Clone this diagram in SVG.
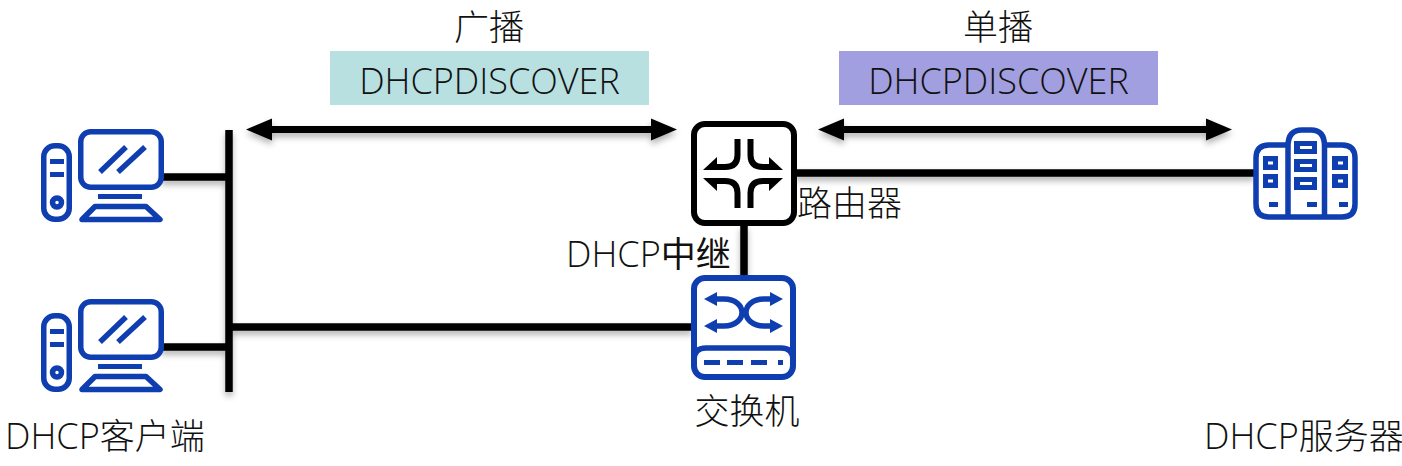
<svg xmlns="http://www.w3.org/2000/svg" width="1402" height="466" viewBox="0 0 1402 466">
<style>
text{font-family:"Open Sans","Noto Sans CJK SC",sans-serif;font-weight:300;fill:#111;font-size:36px}
.cjk{font-family:"Noto Sans CJK SC",sans-serif;font-weight:300;font-size:35px}
.line{stroke:#000;stroke-width:7.500;fill:none}
.arrow{stroke:#000;stroke-width:7;fill:none}
.ic{fill:none;stroke:#0f3eb0;stroke-width:5.500}
.if{fill:#0f3eb0}
.k{fill:none;stroke:#000;stroke-width:6}
.kf{fill:#000}
</style>
<defs>
<filter id="sh" x="-10%" y="-100%" width="120%" height="400%" filterUnits="objectBoundingBox"><feDropShadow dx="0" dy="4" stdDeviation="3" flood-color="#000" flood-opacity="0.3"/></filter>
<g id="pc">
<rect class="ic" x="80.750" y="131.750" width="80.500" height="55.500" rx="10"/>
<path class="ic" d="M100 172L126 147M118 172L145 147"/>
<rect class="ic" x="43.750" y="145.750" width="25.500" height="73.500" rx="11"/>
<rect class="if" x="50" y="159" width="14" height="5"/>
<rect class="if" x="50" y="172" width="14" height="5"/>
<circle class="ic" cx="57" cy="202.500" r="4.500"/>
<rect class="if" x="98" y="194" width="44" height="5"/>
<path class="ic" d="M95 206.500H146L160 219.500H82Z" stroke-linejoin="round"/>
</g>
</defs>
<g id="connectors">
<g filter="url(#sh)">
<path class="line" d="M161 177H229"/>
<path class="line" d="M161 347H229"/>
<path class="line" d="M229 327H692"/>
<path class="line" d="M795 173H1254"/>
<path class="line" d="M744 225V277"/>
<path class="line" d="M229 130V392"/>
</g>
<g filter="url(#sh)">
<path class="arrow" d="M265 129.500H660"/>
<path class="kf" d="M246 129.500L272 118.500V140.500Z"/>
<path class="kf" d="M677 129.500L651 118.500V140.500Z"/>
<path class="arrow" d="M836 129.500H1215"/>
<path class="kf" d="M818 129.500L844 118.500V140.500Z"/>
<path class="kf" d="M1232 129.500L1206 118.500V140.500Z"/>
</g>
</g>
<g id="label-broadcast">
<text class="cjk" x="489" y="40" text-anchor="middle">广播</text>
<rect x="330" y="51" width="319" height="54" fill="#b8e0e1"/>
<text x="489.500" y="94" text-anchor="middle">DHCPDISCOVER</text>
</g>
<g id="label-unicast">
<text class="cjk" x="998" y="40" text-anchor="middle">单播</text>
<rect x="839" y="51" width="319" height="54" fill="#a19fdf"/>
<text x="998.500" y="94" text-anchor="middle">DHCPDISCOVER</text>
</g>
<g id="client1"><use href="#pc"/></g>
<g id="client2"><use href="#pc" y="170"/></g>
<text x="5" y="449">DHCP<tspan class="cjk">客户端</tspan></text>
<g id="router">
<rect x="694" y="124" width="100" height="99" rx="11" fill="#fff" stroke="#000" stroke-width="6"/>
<path class="k" d="M737.500 139V155Q737.500 167 725 167H712"/>
<path class="k" d="M750.500 139V155Q750.500 167 763 167H776"/>
<path class="k" d="M737.500 208V193Q737.500 181 725 181H712"/>
<path class="k" d="M750.500 208V193Q750.500 181 763 181H776"/>
<path class="kf" d="M703 170L717 157V170Z"/>
<path class="kf" d="M783 170L769 157V170Z"/>
<path class="kf" d="M703 178L717 191V178Z"/>
<path class="kf" d="M783 178L769 191V178Z"/>
<text class="cjk" x="797" y="216">路由器</text>
</g>
<text x="566" y="267">DHCP<tspan class="cjk" style="font-weight:400">中继</tspan></text>
<g id="switch">
<rect x="694" y="278" width="99" height="99" rx="11" fill="#fff" stroke="#0f3eb0" stroke-width="6"/>
<path class="ic" d="M694 360Q694 348 706 348H781Q793 348 793 360"/>
<path class="ic" d="M712 299H724C736 299 742 306 742 312.500C742 319 736 326 724 326H712"/>
<path class="ic" d="M776 299H764C752 299 746 306 746 312.500C746 319 752 326 764 326H776"/>
<path class="if" d="M704 299L717 292V306Z"/>
<path class="if" d="M704 326L717 319V333Z"/>
<path class="if" d="M783 299L770 292V306Z"/>
<path class="if" d="M783 326L770 319V333Z"/>
<path class="if" d="M704 360h16v5h-16zM727 360h16v5h-16zM751 360h16v5h-16zM778 360h5v5h-5z"/>
<text class="cjk" x="747" y="424" text-anchor="middle">交换机</text>
</g>
<g id="server">
<path class="ic" d="M1288 145H1269Q1256 145 1256 158V204Q1256 217 1269 217H1342Q1355 217 1355 204V158Q1355 145 1342 145H1324.500"/>
<path class="ic" d="M1288 217V146Q1288 130 1302 130H1311Q1324.500 130 1324.500 146V217"/>
<path class="if" d="M1294 141h23v13h-23zM1294 159h23v13h-23zM1294 177h23v13h-23zM1263 156h15v14h-15zM1263 174h15v14h-15zM1332 156h16v14h-16zM1332 174h16v14h-16zM1269 202h9v5h-9zM1307 202h10v5h-10zM1339 202h9v5h-9z"/>
<path fill="#fff" d="M1300 146h12v3h-12zM1300 164h12v3h-12zM1300 182h12v3h-12zM1268 161.500h5v3h-5zM1268 179.500h5v3h-5zM1338 161.500h5v3h-5zM1338 179.500h5v3h-5z"/>
</g>
<text x="1204" y="449">DHCP<tspan class="cjk">服务器</tspan></text>
</svg>
